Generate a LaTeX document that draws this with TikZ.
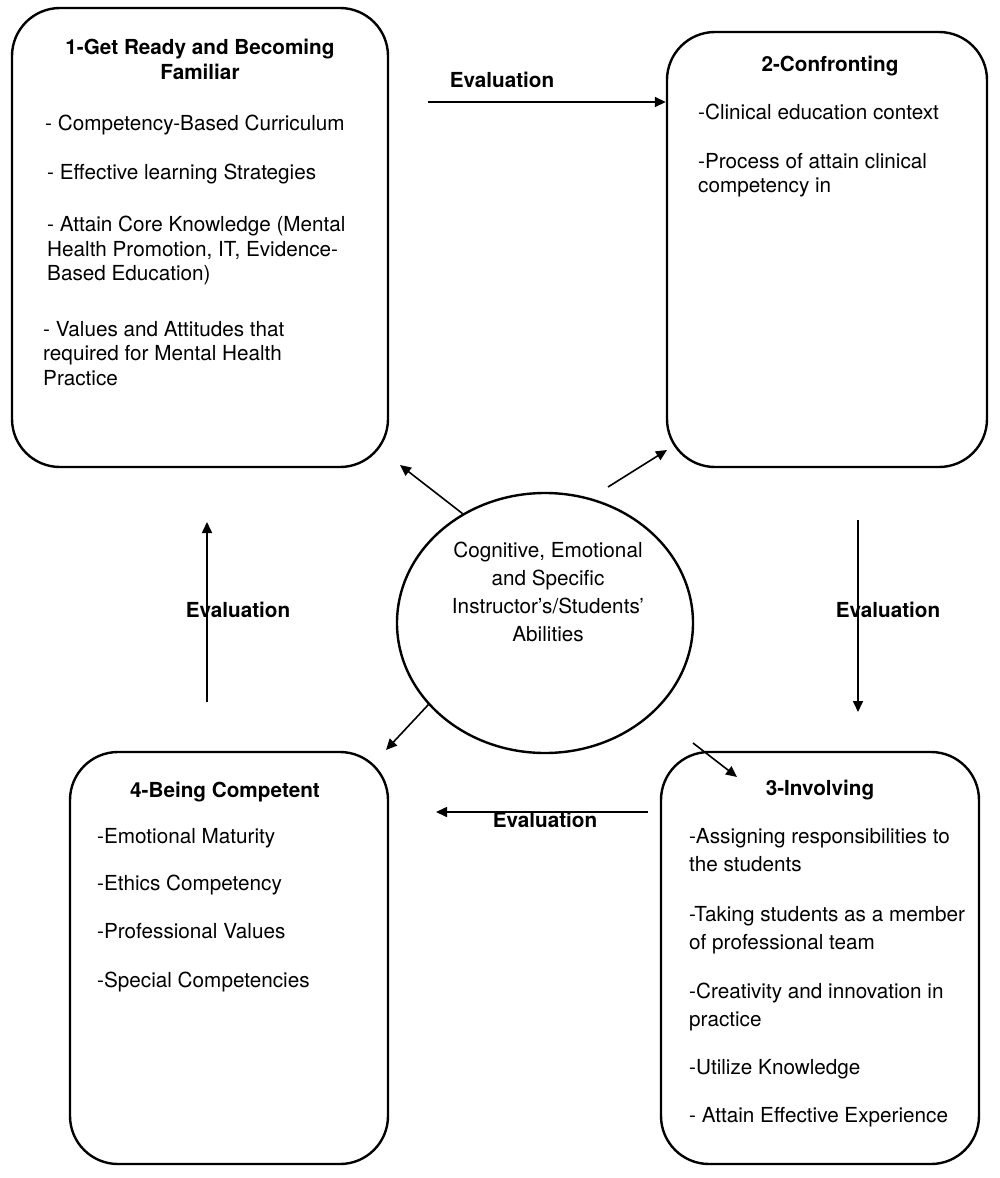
\documentclass[tikz,border=0pt]{standalone}
\usepackage{fontspec}
\setmainfont{TeX Gyre Heros}
\usetikzlibrary{arrows.meta,shapes.geometric}
\tikzset{
	box/.style = {draw, line width=2.4pt, rounded corners=48pt},
	title/.style = {font=\bfseries, align=center, anchor=north, inner sep=0pt},
	item/.style = {align=left, anchor=north west, inner sep=0pt},
	ev/.style = {font=\bfseries, inner sep=0pt},
	arr/.style = {line width=1.6pt, -{Triangle[length=11pt,width=10pt]}}
}
\begin{document}
\begin{tikzpicture}[x=1pt, y=-1pt]
	\useasboundingbox (0,0) rectangle (1000,1178);
	\fontsize{20.7}{24.5}\selectfont
	% the four stages and the abilities in the middle
	\node[box, minimum width=376pt, minimum height=459pt] (ready) at (200,237.5) {};
	\node[box, minimum width=320pt, minimum height=435pt] (confr) at (827,249.5) {};
	\node[box, minimum width=318pt, minimum height=412pt] (invol) at (820,958) {};
	\node[box, minimum width=318pt, minimum height=412pt] (compet) at (229,958) {};
	\node[draw, ellipse, line width=2.4pt, minimum width=296pt, minimum height=260pt] (abil) at (545,623) {};
	
	\node[title] (readyT) at (200,39) {1-Get Ready and Becoming\\Familiar};
	\node[item] (readyA) at (45,115) {- Competency-Based Curriculum};
	\node[item] (readyB) at (47,164) {- Effective learning Strategies};
	\node[item] (readyC) at (47,216) {- Attain Core Knowledge (Mental\\Health Promotion, IT, Evidence-\\Based Education)};
	\node[item] (readyD) at (43,321) {- Values and Attitudes that\\required for Mental Health\\Practice};
	
	\node[title] (confrT) at (830,56) {2-Confronting};
	\node[item] (confrA) at (698,104) {-Clinical education context};
	\node[item] (confrB) at (698,153) {-Process of attain clinical\\competency in};
	
	\begin{scope}[every node/.append style={font=\fontsize{20.7}{28}\selectfont}]
		\node[title, font=\fontsize{20.7}{28}\selectfont\bfseries] (involT) at (820,780) {3-Involving};
		\node[item] (involA) at (689,828) {-Assigning responsibilities to\\the students};
		\node[item] (involB) at (689,906) {-Taking students as a member\\of professional team};
		\node[item] (involC) at (689,983) {-Creativity and innovation in\\practice};
		\node[item] (involD) at (689,1059) {-Utilize Knowledge};
		\node[item] (involE) at (689,1107) {- Attain Effective Experience};
		\node[align=center, anchor=north, inner sep=0pt] (abilT) at (548,542) {Cognitive, Emotional\\and Specific\\Instructor’s/Students’\\Abilities};
	\end{scope}
	
	\node[title] (competT) at (225,782) {4-Being Competent};
	\node[item] (competA) at (97,828) {-Emotional Maturity};
	\node[item] (competB) at (97,875) {-Ethics Competency};
	\node[item] (competC) at (97,923) {-Professional Values};
	\node[item] (competD) at (97,972) {-Special Competencies};
	
	% evaluation arrows round the cycle
	\coordinate (t1) at (428,102);
	\coordinate (r1) at (858,520);
	\coordinate (r2) at (858,712);
	\coordinate (b1) at (648,812);
	\coordinate (b2) at (436,812);
	\coordinate (l1) at (207,702);
	\coordinate (l2) at (207,522);
	\draw[arr] (t1) -- (t1 -| confr.west);
	\draw[arr] (r1) -- (r2);
	\draw[arr] (b1) -- (b2);
	\draw[arr] (l1) -- (l2);
	\node[ev] (ev1) at (502,80) {Evaluation};
	\node[ev] (ev2) at (888,610) {Evaluation};
	\node[ev] (ev3) at (545,820) {Evaluation};
	\node[ev] (ev4) at (238,610) {Evaluation};
	
	% arrows out of the abilities
	\coordinate (a1) at (400,465);
	\coordinate (a2s) at (608,487);
	\coordinate (a2) at (667,450);
	\coordinate (a3) at (386,750);
	\coordinate (a4s) at (693,743);
	\coordinate (a4) at (737,777);
	\draw[arr] (abil.127) -- (a1);
	\draw[arr] (a2s) -- (a2);
	\draw[arr] (abil.215) -- (a3);
	\draw[arr] (a4s) -- (a4);
\end{tikzpicture}
\end{document}
